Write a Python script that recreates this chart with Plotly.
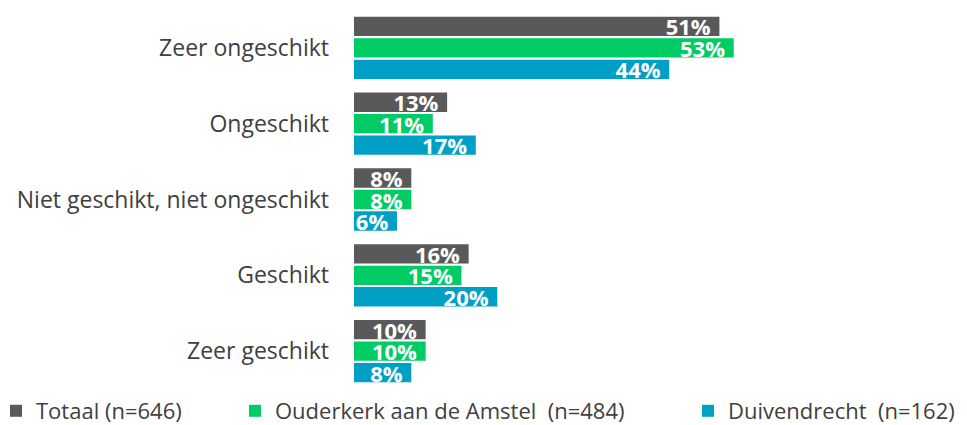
import plotly.graph_objects as go

categories = ["Zeer ongeschikt", "Ongeschikt", "Niet geschikt, niet ongeschikt", "Geschikt", "Zeer geschikt"]
series_names = ["Totaal (n=646)", "Ouderkerk aan de Amstel  (n=484)", "Duivendrecht  (n=162)"]
totaal = [51, 13, 8, 16, 10]
ouderkerk = [53, 11, 8, 15, 10]
duivendrecht = [44, 17, 6, 20, 8]

colors = ["#595959", "#00CC66", "#00A0C6"]

# the page body has an 8px margin, so the figure is drawn 8px smaller
W, H = 959, 417
ML, MR = 346, 4
plot_w = W - ML - MR
legend_px = [-12, 227, 680]   # left edge of each legend, in figure pixels

fig = go.Figure()
for i, (name, vals) in enumerate(zip(series_names, [totaal, ouderkerk, duivendrecht])):
    fig.add_trace(go.Bar(
        y=categories,
        x=vals,
        name=name,
        orientation="h",
        marker=dict(color=colors[i], line=dict(width=0)),
        text=[f"{v}%\u00a0" for v in vals],
        textposition="inside",
        insidetextanchor="end",
        constraintext="none",
        cliponaxis=False,
        textfont=dict(family="Open Sans", size=22, color="white", weight="bold"),
        legend="legend" if i == 0 else f"legend{i + 1}",
        showlegend=True,
        hoverinfo="skip",
    ))

leg = dict(
    orientation="h",
    y=-0.058, yanchor="middle",
    font=dict(family="Open Sans", size=22, color="#404040"),
    bgcolor="rgba(0,0,0,0)",
    itemwidth=30,
    visible=True,
)

fig.update_layout(
    width=W, height=H,
    margin=dict(l=ML, r=MR, t=2, b=36, autoexpand=False),
    paper_bgcolor="white", plot_bgcolor="white",
    showlegend=True,
    barmode="group",
    bargap=0.15,
    bargroupgap=0.1,
    legend=dict(leg, x=(legend_px[0] - ML) / plot_w, xanchor="left"),
    legend2=dict(leg, x=(legend_px[1] - ML) / plot_w, xanchor="left"),
    legend3=dict(leg, x=(legend_px[2] - ML) / plot_w, xanchor="left"),
    xaxis=dict(range=[0, 85], visible=False),
    yaxis=dict(
        categoryorder="array", categoryarray=categories, autorange="reversed",
        showline=False, showgrid=False, ticks="", ticklabelstandoff=24,
        automargin=False,
        tickfont=dict(family="Open Sans", size=23, color="#404040"),
    ),
)

fig.write_html("out.html")
